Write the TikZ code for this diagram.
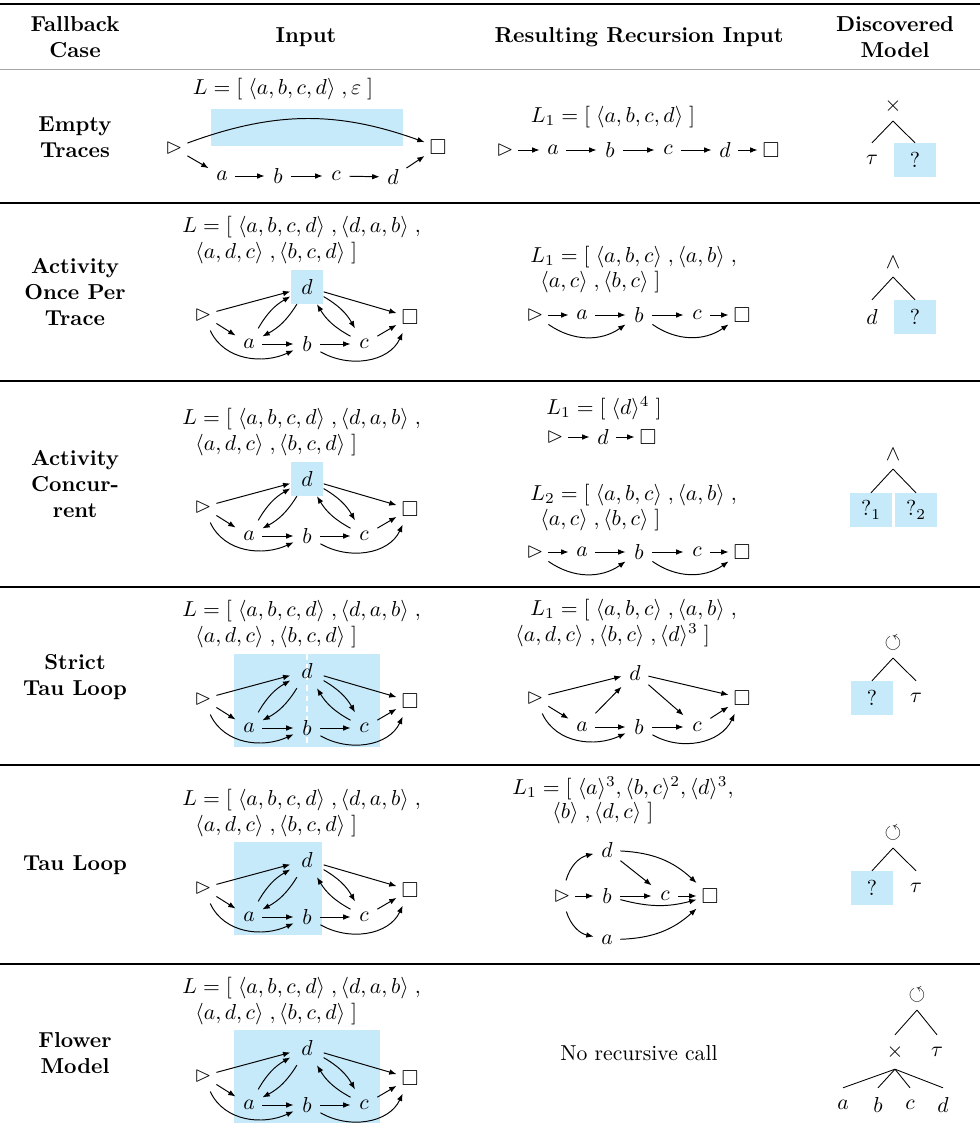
\documentclass[tikz,border=0pt]{standalone}
\usepackage{amssymb}
\usepackage{amsmath}
\usepackage{tikz}
\usetikzlibrary{arrows.meta}

\definecolor{hlblue}{RGB}{199,234,251}
\newcommand{\tr}[1]{\langle #1\rangle\;}
\newcommand{\trp}[2]{\langle #1\rangle^{#2}}
\newcommand{\st}{\vartriangleright}

\tikzset{
  act/.style={minimum width=12pt, minimum height=14pt, inner sep=0pt},
  dnode/.style={minimum width=15pt, minimum height=15.5pt, inner sep=0pt},
  arr/.style={-{Latex[length=3.4pt,width=2.6pt]}, line width=0.45pt},
  head/.style={font=\bfseries, align=center},
  tnode/.style={minimum width=19.4pt, minimum height=15.5pt, inner sep=0pt},
  op/.style={minimum height=13.5pt, inner sep=0pt},
  hl/.style={fill=hlblue},
  rowline/.style={line width=0.5pt},
  logline/.style={anchor=west, inner sep=0pt}
}

\begin{document}
\begin{tikzpicture}[x=0.462pt, y=-0.462pt]
    \useasboundingbox (0,0) rectangle (980,1137);
    \draw[line width=0.8pt] (0,4) -- (980,4);
    \draw[line width=0.4pt, black!35] (0,69) -- (980,69);
    \foreach \y in {203,381,587,765,964} {\draw[rowline] (0,\y) -- (980,\y);}

    \node[head] (hcase) at (75,37) {Fallback\\Case};
    \node[head] (hin) at (306,37) {Input};
    \node[head] (hres) at (639,37) {Resulting Recursion Input};
    \node[head] (hmod) at (895,37) {Discovered\\Model};

    \node[head] (case1) at (75,137) {Empty\\Traces};
    \node[head] (case2) at (75,292) {Activity\\Once Per\\Trace};
    \node[head] (case3) at (75,484) {Activity\\Concur-\\rent};
    \node[head] (case4) at (75,677) {Strict\\Tau Loop};
    \node[head] (case5) at (75,865) {Tau Loop};
    \node[head] (case6) at (75,1053) {Flower\\Model};

    % input column
    \fill[hlblue] (211,109) rectangle (403,146);
    \node (r1t) at (283,89) {$L=[\;\tr{a,b,c,d},\varepsilon\;]$};
    \node[act] (r1s) at (174,148) {$\st$};
    \node[act] (r1e) at (438,147) {$\square$};
    \node[act] (r1a) at (222,176) {$a$};
    \node[act] (r1b) at (278,176) {$b$};
    \node[act] (r1c) at (336,176) {$c$};
    \node[act] (r1d) at (393,177) {$d$};
    \draw[arr] (r1s) to[bend left=20] (r1e);
    \draw[arr] (r1s) -- (r1a);
    \draw[arr] (r1a) -- (r1b);
    \draw[arr] (r1b) -- (r1c);
    \draw[arr] (r1c) -- (r1d);
    \draw[arr] (r1d) -- (r1e);

    \fill[hlblue] (234,654) rectangle (380,747);
    \draw[white, line width=1.3pt, dash pattern=on 2.6pt off 2.2pt] (307,654) -- (307,747);
    \fill[hlblue] (234,842) rectangle (322,935);
    \fill[hlblue] (234,1030) rectangle (380,1123);
    \foreach \p/\dy/\dc in {r2/0/hlblue, r3/192/hlblue, r4/384/none, r5/573/none, r6/761/none} {
    \begin{scope}[shift={(0,\dy)}]
        \node[logline] (\p t1) at (182,227) {$L=[\;\tr{a,b,c,d},\tr{d,a,b},$};
        \node[logline] (\p t2) at (195,253) {$\tr{a,d,c},\tr{b,c,d}]$};
        \node[act] (\p s) at (203,315) {$\st$};
        \node[dnode, fill=\dc] (\p d) at (307,287) {$d$};
        \node[act] (\p e) at (410,317) {$\square$};
        \node[act] (\p a) at (249,344) {$a$};
        \node[act] (\p b) at (307,344) {$b$};
        \node[act] (\p c) at (364,344) {$c$};
        \draw[arr] (\p s) -- (\p d);
        \draw[arr] (\p s) -- (\p a);
        \draw[arr] (\p s) to[out=-65,in=205] (\p b);
        \draw[arr] (\p a) -- (\p b);
        \draw[arr] (\p b) -- (\p c);
        \draw[arr] (\p b) to[out=-30,in=-115] (\p e);
        \draw[arr] (\p c) -- (\p e);
        \draw[arr] (\p d) -- (\p e);
        \draw[arr] (\p a) to[bend left=15] (\p d);
        \draw[arr] (\p d) to[bend left=15] (\p a);
        \draw[arr] (\p d) to[bend left=15] (\p c);
        \draw[arr] (\p c) to[bend left=15] (\p d);
    \end{scope}
    }

    % recursion column
    \node (q1t) at (613,117) {$L_1=[\;\tr{a,b,c,d}]$};
    \node[act] (q1s) at (505,150) {$\st$};
    \node[act] (q1a) at (553,150) {$a$};
    \node[act] (q1b) at (610,150) {$b$};
    \node[act] (q1c) at (668,150) {$c$};
    \node[act] (q1d) at (725,150) {$d$};
    \node[act] (q1e) at (771,150) {$\square$};
    \draw[arr] (q1s) -- (q1a);
    \draw[arr] (q1a) -- (q1b);
    \draw[arr] (q1b) -- (q1c);
    \draw[arr] (q1c) -- (q1d);
    \draw[arr] (q1d) -- (q1e);

    \node[logline] (q2t1) at (530,257) {$L_1=[\;\tr{a,b,c},\tr{a,b},$};
    \node[logline] (q2t2) at (540,282) {$\tr{a,c},\tr{b,c}]$};
    \node (q3t0) at (604,408) {$L_1=[\;\trp{d}{4}\;]$};
    \node[act] (q0s) at (555,437) {$\st$};
    \node[act] (q0d) at (603,437) {$d$};
    \node[act] (q0e) at (648,437) {$\square$};
    \draw[arr] (q0s) -- (q0d);
    \draw[arr] (q0d) -- (q0e);
    \node[logline] (q3t1) at (530,495) {$L_2=[\;\tr{a,b,c},\tr{a,b},$};
    \node[logline] (q3t2) at (540,520) {$\tr{a,c},\tr{b,c}]$};
    \foreach \p/\y in {q2/315, q3/552} {
        \node[act] (\p s) at (535,\y) {$\st$};
        \node[act] (\p a) at (582,\y) {$a$};
        \node[act] (\p b) at (639,\y) {$b$};
        \node[act] (\p c) at (697,\y) {$c$};
        \node[act] (\p e) at (742,\y) {$\square$};
        \draw[arr] (\p s) -- (\p a);
        \draw[arr] (\p a) -- (\p b);
        \draw[arr] (\p b) -- (\p c);
        \draw[arr] (\p c) -- (\p e);
        \draw[arr] (\p s) to[out=-35,in=-145] (\p b);
        \draw[arr] (\p b) to[out=-35,in=-145] (\p e);
    }

    \node[logline] (q4t1) at (530,610) {$L_1=[\;\tr{a,b,c},\tr{a,b},$};
    \node[logline] (q4t2) at (515,635) {$\tr{a,d,c},\tr{b,c},\trp{d}{3}\;]$};
    \node[act] (q4s) at (535,698) {$\st$};
    \node[act] (q4d) at (635,673) {$d$};
    \node[act] (q4e) at (742,698) {$\square$};
    \node[act] (q4a) at (582,727) {$a$};
    \node[act] (q4b) at (639,727) {$b$};
    \node[act] (q4c) at (697,727) {$c$};
    \draw[arr] (q4s) -- (q4d);
    \draw[arr] (q4s) -- (q4a);
    \draw[arr] (q4s) to[out=-65,in=205] (q4b);
    \draw[arr] (q4a) -- (q4b);
    \draw[arr] (q4a) -- (q4d);
    \draw[arr] (q4b) -- (q4c);
    \draw[arr] (q4b) to[out=-30,in=-115] (q4e);
    \draw[arr] (q4c) -- (q4e);
    \draw[arr] (q4d) -- (q4c);
    \draw[arr] (q4d) -- (q4e);

    \node[logline] (q5t1) at (512,788) {$L_1=[\;\trp{a}{3},\trp{b,c}{2},\trp{d}{3},$};
    \node[logline] (q5t2) at (552,813) {$\tr{b},\tr{d,c}]$};
    \node[act] (q5d) at (607,850) {$d$};
    \node[act] (q5s) at (562,896) {$\st$};
    \node[act] (q5b) at (607,896) {$b$};
    \node[act] (q5c) at (665,896) {$c$};
    \node[act] (q5e) at (710,896) {$\square$};
    \node[act] (q5a) at (607,940) {$a$};
    \draw[arr] (q5s) to[bend left=30] (q5d);
    \draw[arr] (q5s) -- (q5b);
    \draw[arr] (q5s) to[bend right=30] (q5a);
    \draw[arr] (q5d) -- (q5c);
    \draw[arr] (q5d) to[bend left=20] (q5e);
    \draw[arr] (q5b) -- (q5c);
    \draw[arr] (q5b) to[bend right=15] (q5e);
    \draw[arr] (q5c) -- (q5e);
    \draw[arr] (q5a) to[bend right=20] (q5e);

    \node (q6t) at (639,1053) {No recursive call};

    % discovered model column
    \node[op] (m1) at (893,106) {$\times$};
    \node[tnode] (m1l) at (872,160) {$\tau$};
    \node[tnode, hl] (m1r) at (915,160) {$?$};
    \draw (m1.south) -- (m1l.north);
    \draw (m1.south) -- (m1r.north);

    \node[op] (m2) at (893,262) {$\wedge$};
    \node[tnode] (m2l) at (872,317) {$d$};
    \node[tnode, hl] (m2r) at (915,317) {$?$};
    \draw (m2.south) -- (m2l.north);
    \draw (m2.south) -- (m2r.north);

    \node[op] (m3) at (893,454) {$\wedge$};
    \node[tnode, hl] (m3l) at (871,510) {$?_1$};
    \node[tnode, hl] (m3r) at (916,510) {$?_2$};
    \draw (m3.south) -- (m3l.north);
    \draw (m3.south) -- (m3r.north);

    \node[op] (m4) at (893,643) {$\circlearrowleft$};
    \node[tnode, hl] (m4l) at (872,698) {$?$};
    \node[tnode] (m4r) at (916,698) {$\tau$};
    \draw (m4.south) -- (m4l.north);
    \draw (m4.south) -- (m4r.north);

    \node[op] (m5) at (893,833) {$\circlearrowleft$};
    \node[tnode, hl] (m5l) at (872,888) {$?$};
    \node[tnode] (m5r) at (916,888) {$\tau$};
    \draw (m5.south) -- (m5l.north);
    \draw (m5.south) -- (m5r.north);

    \node[op] (m6) at (917,995) {$\circlearrowleft$};
    \node[tnode] (m6x) at (895,1052) {$\times$};
    \node[tnode] (m6t) at (937,1052) {$\tau$};
    \draw (m6.south) -- (m6x.north);
    \draw (m6.south) -- (m6t.north);
    \foreach \l/\x in {a/843, b/878, c/910, d/943} {
        \node[tnode] (m6\l) at (\x,1105) {$\l$};
        \draw (m6x.south) -- (m6\l.north);
    }
\end{tikzpicture}
\end{document}
